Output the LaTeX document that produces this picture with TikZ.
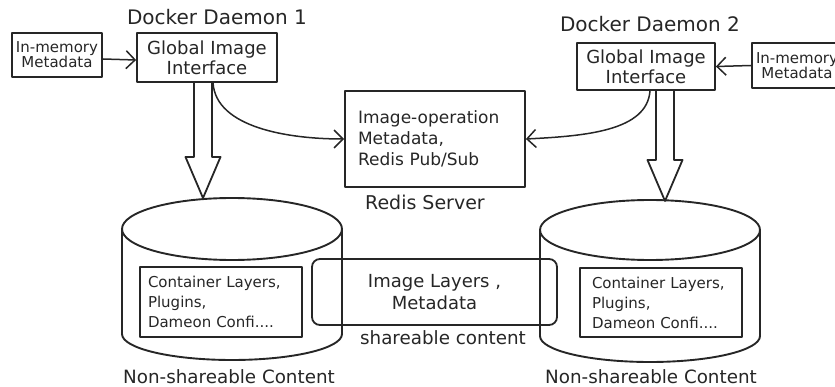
\documentclass[tikz,border=0pt]{standalone}
\usepackage{fontspec}
\setmainfont{DejaVu Sans}
\usetikzlibrary{arrows.meta,calc}
\definecolor{ink}{HTML}{262626}
\newcommand{\hollowarr}[2]{%
  \draw[hollow] ($(#1)+(-9,0)$) -- ($(#2)+(-9,-41)$) -- ($(#2)+(-17.5,-41)$) -- (#2)
    -- ($(#2)+(17.5,-41)$) -- ($(#2)+(9,-41)$) -- ($(#1)+(9,0)$);}
\begin{document}
\begin{tikzpicture}[x=1pt,y=-1pt,line join=round,
  box/.style={draw=ink, line width=1.8pt, rectangle, inner sep=0pt, align=center, text=ink},
  conn/.style={draw=ink, line width=1.5pt, -{Straight Barb[length=9pt,width=18pt]}},
  hollow/.style={draw=ink, line width=1.8pt},
  cyl/.style={draw=ink, line width=1.9pt},
  lbl/.style={text=ink, inner sep=0pt, anchor=base},
  ftitle/.style={font=\fontsize{20}{24}\selectfont},
  fgii/.style={font=\fontsize{18}{20}\selectfont},
  fmem/.style={font=\fontsize{15}{15}\selectfont},
  fredis/.style={font=\fontsize{17}{21}\selectfont},
  finner/.style={font=\fontsize{15}{20}\selectfont},
  fshare/.style={font=\fontsize{18}{22}\selectfont},
  flabel/.style={font=\fontsize{18.3}{22}\selectfont}]
\useasboundingbox (0,0) rectangle (835,387);
\clip (0,0) rectangle (835,387);
% titles
\node[lbl, ftitle] (t1) at (217,25) {Docker Daemon 1};
\node[lbl, ftitle] (t2) at (650,32) {Docker Daemon 2};
% top boxes
\node[box, fmem, minimum width=90pt, minimum height=44pt] (in1) at (57,55) {In-memory\\Metadata};
\node[box, fgii, minimum width=140pt, minimum height=49pt] (gii1) at (207,57.5) {Global Image\\Interface};
\node[box, fgii, minimum width=138pt, minimum height=47pt] (gii2) at (646,66.5) {Global Image\\Interface};
\node[box, fmem, minimum width=90pt, minimum height=45pt] (in2) at (797,65.5) {In-memory\\Metadata};
% redis
\node[box, fredis, minimum width=180pt, minimum height=96pt, text width=154pt, align=left] (redis) at (435,139) {Image-operation\\Metadata,\\Redis Pub/Sub};
\node[lbl, font=\fontsize{19}{22}\selectfont] (rlabel) at (425,210) {Redis Server};
% cylinders
\draw[cyl] (232,229) ellipse[x radius=110pt, y radius=31pt];
\draw[cyl] (122,229) -- (122,334) arc[start angle=180, end angle=360, x radius=110pt, y radius=26pt] -- (342,229);
\draw[cyl] (650,230) ellipse[x radius=110pt, y radius=30pt];
\draw[cyl] (540,230) -- (540,336) arc[start angle=180, end angle=360, x radius=110pt, y radius=26pt] -- (760,230);
\coordinate (cyl1top) at (203,198);
\coordinate (cyl2top) at (665,201);
% inner boxes
\node[box, finner, minimum width=162pt, minimum height=70pt, text width=146pt, align=left] (c1) at (221,302) {Container Layers,\\Plugins,\\Dameon Confi....};
\node[box, finner, minimum width=162pt, minimum height=69pt, text width=138pt, align=left] (c2) at (661,302.5) {Container Layers,\\Plugins,\\Dameon Confi....};
% shareable
\node[box, fshare, rounded corners=8pt, minimum width=245pt, minimum height=66pt] (share) at (434.5,292) {Image Layers ,\\Metadata};
\node[lbl, flabel] (slabel) at (443,344) {shareable content};
\node[lbl, flabel] (n1) at (229,383) {Non-shareable Content};
\node[lbl, flabel] (n2) at (651,383) {Non-shareable Content};
% connectors
\draw[conn] ([yshift=-4pt]in1.east) -- ([yshift=-2.5pt]gii1.west);
\draw[conn] (in2.west) -- (gii2.east);
\draw[conn] ([xshift=6pt]gii1.south) .. controls +(3,45) and +(-55,0) .. (redis.west);
\draw[conn] ([xshift=4pt]gii2.south) .. controls +(-3,40) and +(60,-3) .. (redis.east);
\coordinate (s1) at ([xshift=-4pt]gii1.south);
\coordinate (s2) at ([xshift=19pt]gii2.south);
\hollowarr{s1}{cyl1top}
\hollowarr{s2}{cyl2top}
\end{tikzpicture}
\end{document}
